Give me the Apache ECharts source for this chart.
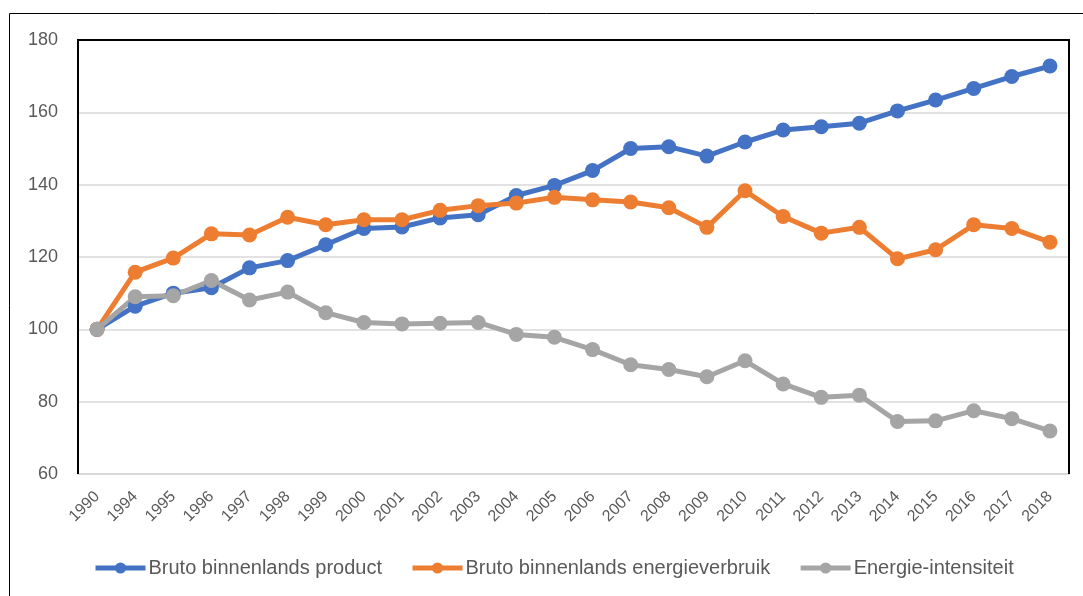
<!DOCTYPE html>
<html>
<head>
<meta charset="utf-8">
<script src="https://cdn.jsdelivr.net/npm/echarts@6/dist/echarts.min.js"></script>
<style>
	html, body { margin: 0; padding: 0; background: #fff; }
	#chart { width: 1083px; height: 596px; }
</style>
</head>
<body>
<div id="chart"></div>
<script>
	//categorieen (jaren)
	var jaren = ['1990', '1994', '1995', '1996', '1997', '1998', '1999', '2000', '2001', '2002', '2003', '2004', '2005',
		'2006', '2007', '2008', '2009', '2010', '2011', '2012', '2013', '2014', '2015', '2016', '2017', '2018'];
	//Bruto binnenlands product
	var bbp = [100, 106.4, 110.0, 111.5, 117.0, 119.0, 123.4, 127.9, 128.3, 130.8, 131.7, 137.0, 139.8,
		143.9, 150.0, 150.5, 147.9, 151.8, 155.1, 156.0, 157.0, 160.4, 163.4, 166.6, 169.9, 172.8];
	//Bruto binnenlands energieverbruik
	var energie = [100, 115.8, 119.7, 126.4, 126.1, 131.0, 128.9, 130.3, 130.3, 132.9, 134.2, 134.9, 136.5,
		135.8, 135.2, 133.6, 128.2, 138.3, 131.2, 126.6, 128.2, 119.5, 122.0, 128.9, 127.9, 124.1];
	//Energie-intensiteit
	var intensiteit = [100, 109.0, 109.3, 113.5, 108.1, 110.3, 104.6, 101.9, 101.5, 101.7, 101.9, 98.6, 97.8,
		94.4, 90.2, 88.9, 86.9, 91.3, 84.9, 81.2, 81.8, 74.5, 74.7, 77.5, 75.3, 71.9];

	var textKleur = '#595959';
	var fontNaam = '"Liberation Sans", sans-serif';

	function maakSerie(naam, data, kleur) {
		return {
			name: naam,
			type: 'line',
			data: data,
			symbol: 'circle',
			symbolSize: 15,
			showAllSymbol: true,
			lineStyle: { width: 5, color: kleur },
			itemStyle: { color: kleur },
			emphasis: { disabled: true },
			animation: false
		};
	}

	var chart = echarts.init(document.getElementById('chart'));
	var option = {
		backgroundColor: '#fff',
		grid: { left: 78, top: 40, right: 14, bottom: 122, containLabel: false },
		graphic: [
			{ //buitenrand
				type: 'rect', z: -1, silent: true,
				shape: { x: 9.5, y: 13.5, width: 1090, height: 600 },
				style: { fill: 'none', stroke: '#000', lineWidth: 1 }
			},
			{ //kader van plotgebied
				type: 'polyline', z: 10, silent: true,
				shape: { points: [[78, 474], [78, 40], [1069, 40], [1069, 474]] },
				style: { fill: 'none', stroke: '#000', lineWidth: 2 }
			}
		],
		legend: {
			top: 553,
			left: 88,
			itemGap: 28,
			itemWidth: 50,
			itemHeight: 14,
			lineStyle: { width: 5 },
			textStyle: { color: textKleur, fontSize: 20, fontFamily: fontNaam, padding: [0, 0, 0, -2] },
			data: ['Bruto binnenlands product', 'Bruto binnenlands energieverbruik', 'Energie-intensiteit']
		},
		xAxis: {
			type: 'category',
			data: jaren,
			boundaryGap: true,
			axisTick: { show: false },
			axisLine: { lineStyle: { color: '#d9d9d9', width: 2 } },
			axisLabel: { rotate: 45, color: textKleur, fontSize: 16, fontFamily: fontNaam, interval: 0, margin: 20 }
		},
		yAxis: {
			type: 'value',
			min: 60,
			max: 180,
			interval: 20,
			axisLine: { show: false },
			axisTick: { show: false },
			splitLine: { lineStyle: { color: '#d9d9d9', width: 1.5 } },
			axisLabel: { color: textKleur, fontSize: 18, fontFamily: fontNaam, margin: 20 }
		},
		series: [
			maakSerie('Bruto binnenlands product', bbp, '#4472c4'),
			maakSerie('Bruto binnenlands energieverbruik', energie, '#ed7d31'),
			maakSerie('Energie-intensiteit', intensiteit, '#a5a5a5')
		]
	};
	chart.setOption(option);
</script>
</body>
</html>
